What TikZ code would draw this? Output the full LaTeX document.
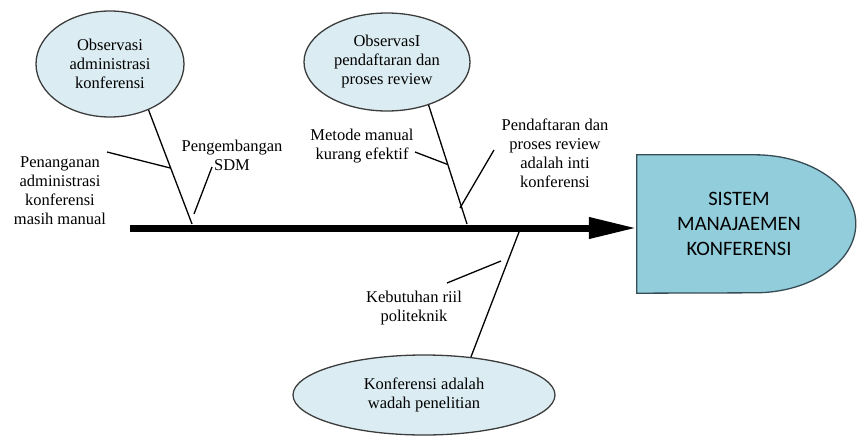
\documentclass[tikz,border=0pt]{standalone}
\usepackage{fontspec}
\setmainfont{Liberation Serif}
\newfontfamily\headfont{Carlito}
\usetikzlibrary{shapes.geometric,arrows.meta,backgrounds}
\definecolor{ovalblue}{RGB}{219,237,243}
\definecolor{headblue}{RGB}{146,205,220}
\definecolor{edgegray}{RGB}{60,60,60}
\definecolor{headedge}{RGB}{55,75,85}
\tikzset{% 
  fishbone/.style = {
    x=1pt, y=-1pt,
    every node/.style = {align=center, inner sep=0pt,
      font=\fontsize{16.5}{19}\selectfont},
    cause/.style = {shape=ellipse, draw=edgegray, line width=1.3pt,
      fill=ovalblue},
    bone/.style = {draw, line width=1.3pt},
    spine/.style = {draw, line width=7pt,
      -{Triangle[length=48pt,width=20pt]}},
    head/.style = {minimum width=204pt, minimum height=138pt,
      font=\headfont\fontsize{20.5}{25}\selectfont}
  }
}

\begin{document}
\begin{tikzpicture}[fishbone]
\useasboundingbox (0,0) rectangle (859,437);
% head of the fish
\node[head] (sys) at (739,224) {SISTEM\\MANAJAEMEN\\KONFERENSI};
\begin{scope}[on background layer]
\draw[fill=headblue, draw=headedge, line width=1.3pt]
  (sys.north west) -- ++(118,0)
  arc[start angle=-90, end angle=90, x radius=101, y radius=69]
  -- (sys.south west) -- cycle;
\end{scope}
\coordinate (tail) at (130,228);
\draw[spine] (tail) -- (tail -| sys.west);

% upper left bone
\node[cause, minimum width=148pt, minimum height=106pt] (obsadm) at (110,64)
  {Observasi\\administrasi\\konferensi};
\coordinate (s1) at (192,224);
\draw[bone] (obsadm.-50) -- coordinate[pos=0.51] (j1) (s1);
\node (manual) at (60,191) {Penanganan\\administrasi\\konferensi\\masih manual};
\coordinate (m1) at (107,152);
\draw[bone] (m1) -- (j1);
\node (sdm) at (232,155) {Pengembangan\\SDM};
\coordinate (p1) at (212,167);
\coordinate (q1) at (194,214);
\draw[bone] (p1) -- (q1);

% upper middle bone
\node[cause, minimum width=166pt, minimum height=98pt] (obsreg) at (387,62)
  {ObservasI\\pendaftaran dan\\proses review};
\coordinate (s2) at (467,224);
\draw[bone] (obsreg.-46) -- coordinate[pos=0.5] (j2) (s2);
\node (metode) at (362,146) {Metode manual\\kurang efektif};
\coordinate (m2) at (415,152);
\draw[bone] (m2) -- (j2);
\node (inti) at (555,153) {Pendaftaran dan\\proses review\\adalah inti\\konferensi};
\coordinate (p2) at (494,150);
\coordinate (q2) at (460,208);
\draw[bone] (p2) -- (q2);

% lower bone
\node[cause, minimum width=262pt, minimum height=80pt] (wadah) at (424,395)
  {Konferensi adalah\\wadah penelitian};
\coordinate (s3) at (519,232);
\draw[bone] (s3) -- (wadah.39);
\node (riil) at (414,308) {Kebutuhan riil\\politeknik};
\coordinate (m3) at (447,283);
\coordinate (j3) at (501,261);
\draw[bone] (m3) -- (j3);
\end{tikzpicture}
\end{document}
